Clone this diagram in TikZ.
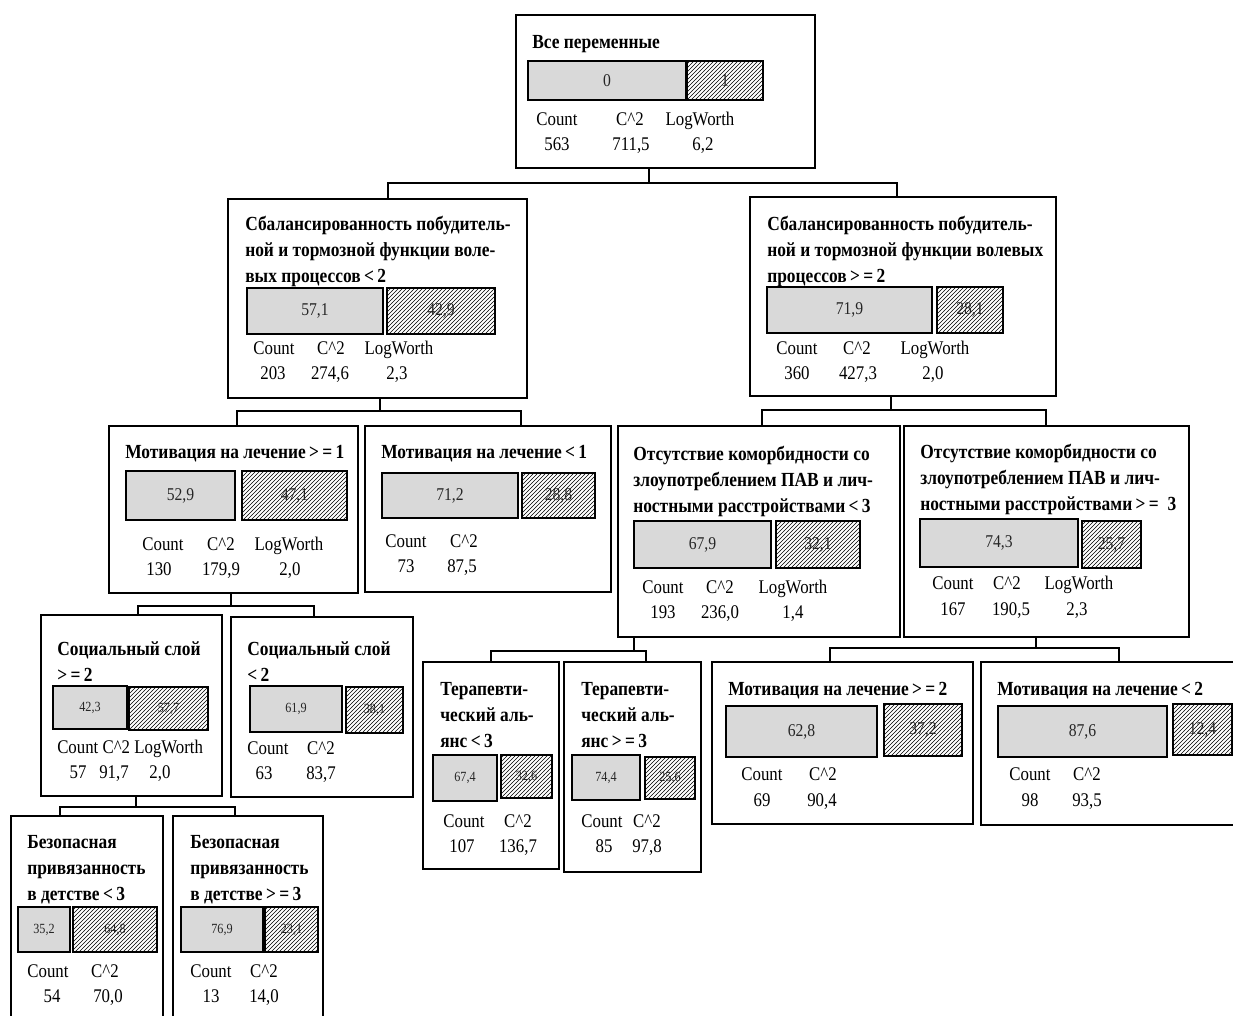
\documentclass[tikz,border=0pt]{standalone}
\usepackage{fontspec}
\setmainfont{Liberation Serif}[FakeStretch=0.87]
\usetikzlibrary{fit,patterns}

\tikzset{
	tbox/.style={draw, line width=1.4pt, inner sep=0pt},
	gbar/.style={draw, line width=1.2pt, fill=gray!30, inner sep=0pt},
	hbar/.style={draw, line width=1.2pt, fill=white, pattern=north east lines, inner sep=0pt},
	lab/.style={label={[text=black!85, inner sep=0pt, font=\fontsize{13.5}{14}\selectfont]center:#1}},
	slab/.style={label={[text=black!85, inner sep=0pt, font=\fontsize{10.5}{11}\selectfont]center:#1}},
	ttl/.style={anchor=base west, align=left, inner sep=0pt, font=\bfseries\fontsize{15}{19.5}\selectfont},
	st/.style={anchor=base, inner sep=0pt, font=\fontsize{14.5}{15}\selectfont},
	conn/.style={line width=1.2pt},
}

\begin{document}
\begin{tikzpicture}[x=0.75pt, y=-0.75pt]
	\useasboundingbox (0,0) rectangle (1233,1015);
	\clip (0,0) rectangle (1233,1015);
	% Root
	\node[tbox, fit={(516,15) (815,168)}] (root) {};
	\node[ttl] (root-t) at (532,48) {Все переменные};
	\node[gbar, fit={(528,61) (686,100)}, lab=0] (root-0) {};
	\node[hbar, fit={(687,61) (763,100)}, lab=1] (root-1) {};
	\node[st] (root-c) at (557,125) {Count};
	\node[st] (root-x) at (630,125) {C\textasciicircum 2};
	\node[st] (root-l) at (700,125) {LogWorth};
	\node[st] (root-cv) at (557,150) {563};
	\node[st] (root-xv) at (631,150) {711,5};
	\node[st] (root-lv) at (703,150) {6,2};
	% Level 1
	\node[tbox, fit={(228,199) (527,398)}] (sa) {};
	\node[ttl] (sa-t) at (245,282) {Сбалансированность побудитель-\\ной и тормозной функции воле-\\вых процессов\,<\,2};
	\node[gbar, fit={(247,288) (383,334)}, lab={57,1}] (sa-0) {};
	\node[hbar, fit={(387,288) (495,334)}, lab={42,9}] (sa-1) {};
	\node[st] (sa-c) at (274,354) {Count};
	\node[st] (sa-x) at (331,354) {C\textasciicircum 2};
	\node[st] (sa-l) at (399,354) {LogWorth};
	\node[st] (sa-cv) at (273,379) {203};
	\node[st] (sa-xv) at (330,379) {274,6};
	\node[st] (sa-lv) at (397,379) {2,3};

	\node[tbox, fit={(750,197) (1056,396)}] (sb) {};
	\node[ttl] (sb-t) at (767,282) {Сбалансированность побудитель-\\ной и тормозной функции волевых\\процессов\,>\,=\,2};
	\node[gbar, fit={(767,287) (932,333)}, lab={71,9}] (sb-0) {};
	\node[hbar, fit={(937,287) (1003,333)}, lab={28,1}] (sb-1) {};
	\node[st] (sb-c) at (797,354) {Count};
	\node[st] (sb-x) at (857,354) {C\textasciicircum 2};
	\node[st] (sb-l) at (935,354) {LogWorth};
	\node[st] (sb-cv) at (797,379) {360};
	\node[st] (sb-xv) at (858,379) {427,3};
	\node[st] (sb-lv) at (933,379) {2,0};
	% Level 2
	\node[tbox, fit={(109,426) (358,593)}] (ma) {};
	\node[ttl] (ma-t) at (125,458) {Мотивация на лечение\,>\,=\,1};
	\node[gbar, fit={(126,471) (235,520)}, lab={52,9}] (ma-0) {};
	\node[hbar, fit={(242,471) (347,520)}, lab={47,1}] (ma-1) {};
	\node[st] (ma-c) at (163,550) {Count};
	\node[st] (ma-x) at (221,550) {C\textasciicircum 2};
	\node[st] (ma-l) at (289,550) {LogWorth};
	\node[st] (ma-cv) at (159,575) {130};
	\node[st] (ma-xv) at (221,575) {179,9};
	\node[st] (ma-lv) at (290,575) {2,0};

	\node[tbox, fit={(365,426) (611,592)}] (mb) {};
	\node[ttl] (mb-t) at (381,458) {Мотивация на лечение\,<\,1};
	\node[gbar, fit={(382,473) (518,518)}, lab={71,2}] (mb-0) {};
	\node[hbar, fit={(522,473) (595,518)}, lab={28,8}] (mb-1) {};
	\node[st] (mb-c) at (406,547) {Count};
	\node[st] (mb-x) at (464,547) {C\textasciicircum 2};
	\node[st] (mb-cv) at (406,572) {73};
	\node[st] (mb-xv) at (462,572) {87,5};

	\node[tbox, fit={(618,426) (900,637)}] (oa) {};
	\node[ttl] (oa-t) at (633,512) {Отсутствие коморбидности со\\злоупотреблением ПАВ и лич-\\ностными расстройствами\,<\,3};
	\node[gbar, fit={(634,521) (771,568)}, lab={67,9}] (oa-0) {};
	\node[hbar, fit={(776,521) (860,568)}, lab={32,1}] (oa-1) {};
	\node[st] (oa-c) at (663,593) {Count};
	\node[st] (oa-x) at (720,593) {C\textasciicircum 2};
	\node[st] (oa-l) at (793,593) {LogWorth};
	\node[st] (oa-cv) at (663,618) {193};
	\node[st] (oa-xv) at (720,618) {236,0};
	\node[st] (oa-lv) at (793,618) {1,4};

	\node[tbox, fit={(904,426) (1189,637)}] (ob) {};
	\node[ttl] (ob-t) at (920,510) {Отсутствие коморбидности со\\злоупотреблением ПАВ и лич-\\ностными расстройствами\,>\,=\;\,3};
	\node[gbar, fit={(920,519) (1078,567)}, lab={74,3}] (ob-0) {};
	\node[hbar, fit={(1082,521) (1141,568)}, lab={25,7}] (ob-1) {};
	\node[st] (ob-c) at (953,589) {Count};
	\node[st] (ob-x) at (1007,589) {C\textasciicircum 2};
	\node[st] (ob-l) at (1079,589) {LogWorth};
	\node[st] (ob-cv) at (953,615) {167};
	\node[st] (ob-xv) at (1011,615) {190,5};
	\node[st] (ob-lv) at (1077,615) {2,3};
	% Level 3
	\node[tbox, fit={(41,615) (222,796)}] (sc) {};
	\node[ttl] (sc-t) at (57,681) {Социальный слой\\>\,=\,2};
	\node[gbar, fit={(53,686) (127,729)}, slab={42,3}] (sc-0) {};
	\node[hbar, fit={(129,687) (208,730)}, slab={57,7}] (sc-1) {};
	\node[st, anchor=base west] (sc-c) at (57,753) {Count C\textasciicircum 2 LogWorth};
	\node[st] (sc-cv) at (78,778) {57};
	\node[st] (sc-xv) at (114,778) {91,7};
	\node[st] (sc-lv) at (160,778) {2,0};

	\node[tbox, fit={(231,617) (413,797)}] (sd) {};
	\node[ttl] (sd-t) at (247,681) {Социальный слой\\<\,2};
	\node[gbar, fit={(250,686) (342,732)}, slab={61,9}] (sd-0) {};
	\node[hbar, fit={(346,687) (403,733)}, slab={38,1}] (sd-1) {};
	\node[st] (sd-c) at (268,754) {Count};
	\node[st] (sd-x) at (321,754) {C\textasciicircum 2};
	\node[st] (sd-cv) at (264,779) {63};
	\node[st] (sd-xv) at (321,779) {83,7};

	\node[tbox, fit={(423,662) (559,869)}] (ta) {};
	\node[ttl] (ta-t) at (440,747) {Терапевти-\\ческий аль-\\янс\,<\,3};
	\node[gbar, fit={(433,755) (497,801)}, slab={67,4}] (ta-0) {};
	\node[hbar, fit={(501,755) (552,798)}, slab={32,6}] (ta-1) {};
	\node[st] (ta-c) at (464,827) {Count};
	\node[st] (ta-x) at (518,827) {C\textasciicircum 2};
	\node[st] (ta-cv) at (462,852) {107};
	\node[st] (ta-xv) at (518,852) {136,7};

	\node[tbox, fit={(564,662) (701,872)}] (tb) {};
	\node[ttl] (tb-t) at (581,747) {Терапевти-\\ческий аль-\\янс\,>\,=\,3};
	\node[gbar, fit={(572,755) (640,800)}, slab={74,4}] (tb-0) {};
	\node[hbar, fit={(645,757) (695,799)}, slab={25,6}] (tb-1) {};
	\node[st] (tb-c) at (602,827) {Count};
	\node[st] (tb-x) at (647,827) {C\textasciicircum 2};
	\node[st] (tb-cv) at (604,852) {85};
	\node[st] (tb-xv) at (647,852) {97,8};

	\node[tbox, fit={(712,662) (973,824)}] (mc) {};
	\node[ttl] (mc-t) at (728,695) {Мотивация на лечение\,>\,=\,2};
	\node[gbar, fit={(726,706) (877,757)}, lab={62,8}] (mc-0) {};
	\node[hbar, fit={(884,704) (962,756)}, lab={37,2}] (mc-1) {};
	\node[st] (mc-c) at (762,780) {Count};
	\node[st] (mc-x) at (823,780) {C\textasciicircum 2};
	\node[st] (mc-cv) at (762,806) {69};
	\node[st] (mc-xv) at (822,806) {90,4};

	\node[tbox, fit={(981,662) (1245,825)}] (md) {};
	\node[ttl] (md-t) at (997,695) {Мотивация на лечение\,<\,2};
	\node[gbar, fit={(998,706) (1167,757)}, lab={87,6}] (md-0) {};
	\node[hbar, fit={(1173,704) (1232,755)}, lab={12,4}] (md-1) {};
	\node[st] (md-c) at (1030,780) {Count};
	\node[st] (md-x) at (1087,780) {C\textasciicircum 2};
	\node[st] (md-cv) at (1030,806) {98};
	\node[st] (md-xv) at (1087,806) {93,5};
	% Level 4
	\node[tbox, fit={(11,816) (163,1030)}] (ba) {};
	\node[ttl] (ba-t) at (27,900) {Безопасная\\привязанность\\в детстве\,<\,3};
	\node[gbar, fit={(18,907) (70,952)}, slab={35,2}] (ba-0) {};
	\node[hbar, fit={(73,907) (157,952)}, slab={64,8}] (ba-1) {};
	\node[st] (ba-c) at (48,977) {Count};
	\node[st] (ba-x) at (105,977) {C\textasciicircum 2};
	\node[st] (ba-cv) at (52,1002) {54};
	\node[st] (ba-xv) at (108,1002) {70,0};

	\node[tbox, fit={(173,816) (323,1030)}] (bb) {};
	\node[ttl] (bb-t) at (190,900) {Безопасная\\привязанность\\в детстве\,>\,=\,3};
	\node[gbar, fit={(181,907) (263,952)}, slab={76,9}] (bb-0) {};
	\node[hbar, fit={(265,907) (318,952)}, slab={23,1}] (bb-1) {};
	\node[st] (bb-c) at (211,977) {Count};
	\node[st] (bb-x) at (264,977) {C\textasciicircum 2};
	\node[st] (bb-cv) at (211,1002) {13};
	\node[st] (bb-xv) at (264,1002) {14,0};
	% Edges
	\coordinate (j0) at (649,183);
	\coordinate (j0a) at (388,183);
	\coordinate (j0b) at (897,183);
	\draw[conn] (root.south -| j0) -- (j0);
	\draw[conn] (sa.north -| j0a) -- (j0a) -- (j0b) -- (sb.north -| j0b);

	\coordinate (j1) at (380,411);
	\coordinate (j1a) at (237,411);
	\coordinate (j1b) at (521,411);
	\draw[conn] (sa.south -| j1) -- (j1);
	\draw[conn] (ma.north -| j1a) -- (j1a) -- (j1b) -- (mb.north -| j1b);

	\coordinate (j2) at (891,410);
	\coordinate (j2a) at (762,410);
	\coordinate (j2b) at (1046,410);
	\draw[conn] (sb.south -| j2) -- (j2);
	\draw[conn] (oa.north -| j2a) -- (j2a) -- (j2b) -- (ob.north -| j2b);

	\coordinate (j3) at (634,651);
	\coordinate (j3a) at (491,651);
	\coordinate (j3b) at (646,651);
	\draw[conn] (oa.south -| j3) -- (j3);
	\draw[conn] (ta.north -| j3a) -- (j3a) -- (j3b) -- (tb.north -| j3b);

	\coordinate (j4) at (1036,648);
	\coordinate (j4a) at (830,648);
	\coordinate (j4b) at (1119,648);
	\draw[conn] (ob.south -| j4) -- (j4);
	\draw[conn] (mc.north -| j4a) -- (j4a) -- (j4b) -- (md.north -| j4b);

	\coordinate (j5) at (231,606);
	\coordinate (j5a) at (138,606);
	\coordinate (j5b) at (314,606);
	\draw[conn] (ma.south -| j5) -- (j5);
	\draw[conn] (sc.north -| j5a) -- (j5a) -- (j5b) -- (sd.north -| j5b);

	\coordinate (j6) at (136,807);
	\coordinate (j6a) at (60,807);
	\coordinate (j6b) at (235,807);
	\draw[conn] (sc.south -| j6) -- (j6);
	\draw[conn] (ba.north -| j6a) -- (j6a) -- (j6b) -- (bb.north -| j6b);
\end{tikzpicture}
\end{document}
